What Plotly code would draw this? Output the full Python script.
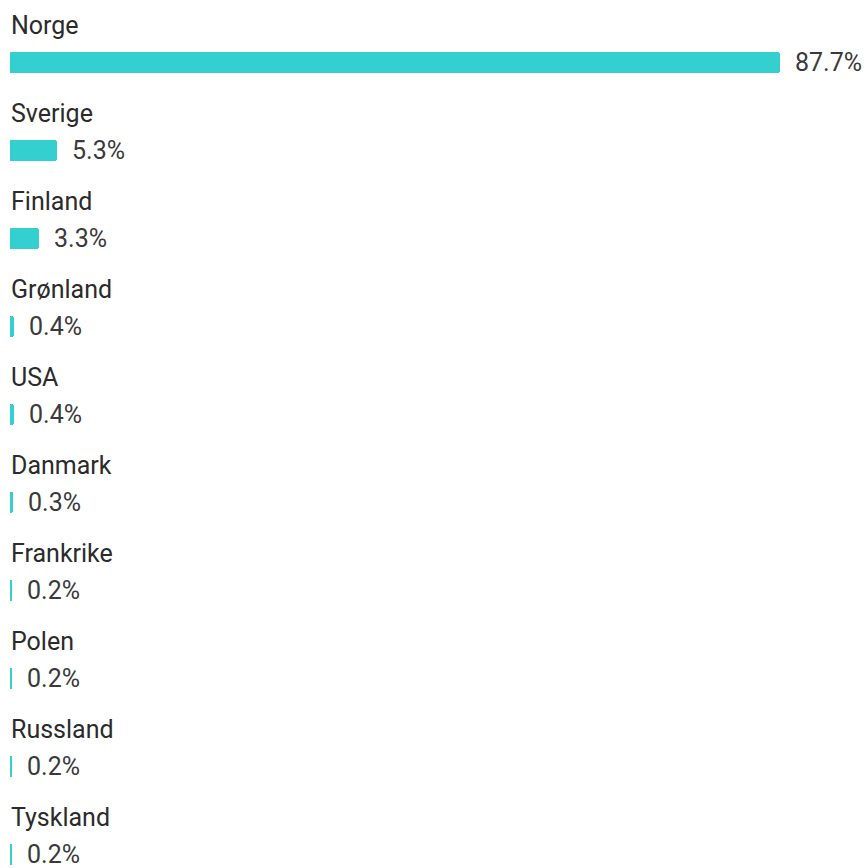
import plotly.graph_objects as go

# Share of respondents by country
countries = ["Norge", "Sverige", "Finland", "Grønland", "USA", "Danmark",
             "Frankrike", "Polen", "Russland", "Tyskland"]
shares = [87.7, 5.3, 3.3, 0.4, 0.4, 0.3, 0.2, 0.2, 0.2, 0.2]
value_labels = ["87.7%", "5.3%", "3.3%", "0.4%", "0.4%", "0.3%",
                "0.2%", "0.2%", "0.2%", "0.2%"]

BAR_COLOR = "#34CFCF"
FONT = "Roboto"
W, H = 866, 868
ROW_PX = 88          # vertical spacing between rows
FIRST_ROW_PX = 62.5  # centre of the first bar from the top

idx = list(range(len(countries)))

fig = go.Figure()
fig.add_trace(go.Bar(
    x=shares,
    y=idx,
    orientation="h",
    width=21 / ROW_PX,
    marker=dict(color=BAR_COLOR, cornerradius=3, line=dict(width=0)),
    hoverinfo="skip",
))

annotations = []
for i, (name, val, lab) in enumerate(zip(countries, shares, value_labels)):
    # country name above each bar
    annotations.append(dict(
        x=0, y=i, xref="x", yref="y", text=name, showarrow=False,
        xanchor="left", yanchor="middle", yshift=37.5, xshift=-1,
        font=dict(family=FONT, size=25, color="#2b2b2b"),
    ))
    # percentage to the right of the bar
    annotations.append(dict(
        x=val, y=i, xref="x", yref="y", text=lab, showarrow=False,
        xanchor="left", yanchor="middle", xshift=13,
        font=dict(family=FONT, size=25, color="#3a3a3a"),
    ))

plot_w = W - 10
x_max = 87.7 * plot_w / 770
span = H / ROW_PX
top = -FIRST_ROW_PX / ROW_PX

fig.update_layout(
    width=W, height=H,
    margin=dict(l=10, r=0, t=0, b=0),
    paper_bgcolor="white", plot_bgcolor="white",
    showlegend=False,
    annotations=annotations,
    xaxis=dict(range=[0, x_max], visible=False, fixedrange=True),
    yaxis=dict(range=[top + span, top], visible=False, fixedrange=True),
    bargap=0,
)

fig.write_html("out.html", config={"displayModeBar": False})
